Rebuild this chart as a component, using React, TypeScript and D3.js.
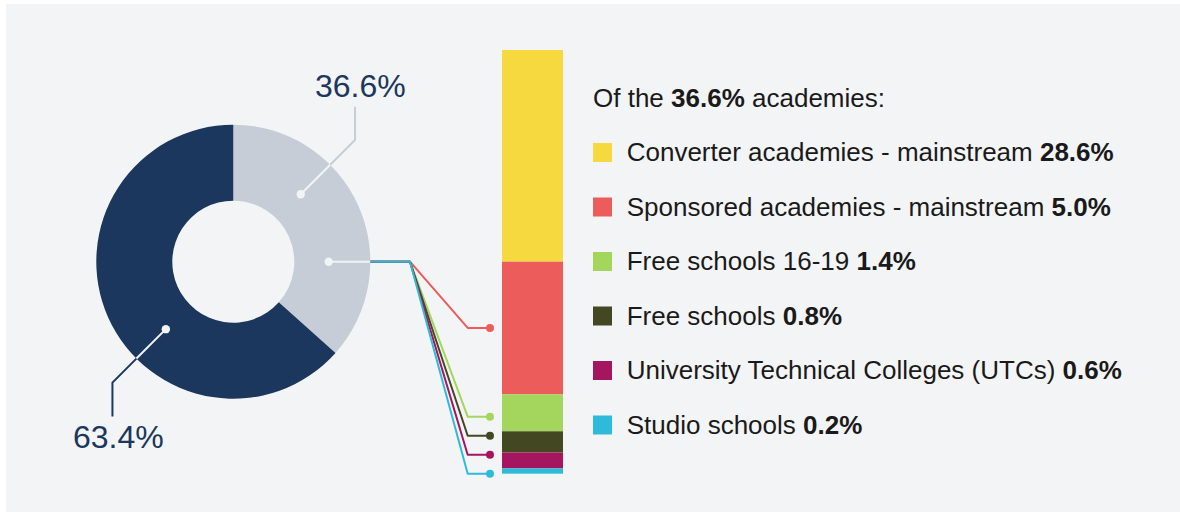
import React, { useEffect, useRef } from 'react';
import * as d3 from 'd3';

// share of all schools
const donutNames = ['Academies', 'Other schools'];
const donutValues = [36.6, 63.4];
const donutColors = ['#c6cdd6', '#1b375d'];

// breakdown of the academies
const categories = [
  'Converter academies - mainstream',
  'Sponsored academies - mainstream',
  'Free schools 16-19',
  'Free schools',
  'University Technical Colleges (UTCs)',
  'Studio schools'
];
const values = [28.6, 5.0, 1.4, 0.8, 0.6, 0.2];
const colors = ['#f6d93f', '#eb5c5a', '#a4d65e', '#434823', '#a4165f', '#2ebbd9'];

const FONT = '"Liberation Sans", Arial, Helvetica, sans-serif';

const App = () => {
  const ref = useRef<SVGSVGElement>(null);

  useEffect(() => {
    const svg = d3.select(ref.current);
    svg.selectAll('*').remove();

    svg.append('rect')
      .attr('x', 6)
      .attr('y', 4)
      .attr('width', 1174)
      .attr('height', 508)
      .attr('fill', '#f3f4f6');

    // donut
    const cx = 233.3;
    const cy = 261.7;
    const inner = 61;
    const outer = 137;
    const dotR = 95.4;

    const pie = d3.pie<number>().sort(null).value(d => d);
    const arc = d3.arc<d3.PieArcDatum<number>>().innerRadius(inner).outerRadius(outer);
    const donut = svg.append('g').attr('transform', `translate(${cx},${cy})`);
    donut.selectAll('path')
      .data(pie(donutValues))
      .enter()
      .append('path')
      .attr('d', arc)
      .attr('fill', (d, i) => donutColors[i]);

    const polar = (deg: number, r: number): [number, number] => {
      const a = (deg * Math.PI) / 180;
      return [cx + r * Math.sin(a), cy - r * Math.cos(a)];
    };

    // leader lines for the two donut labels
    const leaders = [
      { angle: 45, diag: 54.3, vert: -33.3, color: donutColors[0], text: `${donutValues[0]}%`, tx: 315, ty: 96.7 },
      { angle: 225, diag: 53.4, vert: 34, color: donutColors[1], text: `${donutValues[1]}%`, tx: 73, ty: 447.7 }
    ];
    leaders.forEach(l => {
      const [dx, dy] = polar(l.angle, dotR);
      const sx = Math.sign(Math.sin((l.angle * Math.PI) / 180));
      const sy = -Math.sign(Math.cos((l.angle * Math.PI) / 180));
      const ex = dx + sx * l.diag;
      const ey = dy + sy * l.diag;
      svg.append('path')
        .attr('d', `M${dx},${dy}L${ex},${ey}L${ex},${ey + l.vert}`)
        .attr('fill', 'none')
        .attr('stroke', l.color)
        .attr('stroke-width', 2);
      const [ox, oy] = polar(l.angle, outer);
      svg.append('line')
        .attr('x1', dx).attr('y1', dy)
        .attr('x2', ox).attr('y2', oy)
        .attr('stroke', '#f3f4f6')
        .attr('stroke-width', 2);
      svg.append('circle')
        .attr('cx', dx).attr('cy', dy).attr('r', 4.2)
        .attr('fill', '#f3f4f6');
      svg.append('text')
        .attr('x', l.tx)
        .attr('y', l.ty)
        .attr('font-family', FONT)
        .attr('font-size', 32)
        .attr('fill', '#1b375d')
        .text(l.text);
    });

    // stacked bar of the academies (bottom part drawn to scale, top segment broken)
    const barX = 502;
    const barW = 61;
    const barTop = 50;
    const barBottom = 473.7;
    const smallSum = d3.sum(values.slice(1));
    const y = d3.scaleLinear()
      .domain([0, smallSum, d3.sum(values)])
      .range([barBottom, 261.7, barTop]);

    const segs = values.map((v, i) => {
      const below = d3.sum(values.slice(i + 1));
      return { v, i, y0: y(below), y1: y(below + v) };
    });

    svg.append('g')
      .selectAll('rect')
      .data(segs)
      .enter()
      .append('rect')
      .attr('x', barX)
      .attr('y', d => d.y1)
      .attr('width', barW)
      .attr('height', d => d.y0 - d.y1)
      .attr('fill', d => colors[d.i]);

    // connectors from the donut to the bar
    const [mx, my] = polar(90, dotR);
    const [edgeX] = polar(90, outer);
    const fanX = 410;
    const elbowX = 467.7;
    const endX = 490;
    const n = values.length;
    const conn = segs.slice(1).map(s => ({
      ...s,
      cy: s.i === 1 ? (s.y0 + s.y1) / 2 : barBottom - (n - 1 - s.i) * 19
    }));
    conn.forEach(c => {
      svg.append('path')
        .attr('d', `M${edgeX},${my}L${fanX},${my}L${elbowX},${c.cy}L${endX},${c.cy}`)
        .attr('fill', 'none')
        .attr('stroke', colors[c.i])
        .attr('stroke-width', 2)
        .attr('stroke-linejoin', 'round');
      svg.append('circle')
        .attr('cx', endX).attr('cy', c.cy).attr('r', 4)
        .attr('fill', colors[c.i]);
    });
    svg.append('line')
      .attr('x1', mx).attr('y1', my)
      .attr('x2', edgeX).attr('y2', my)
      .attr('stroke', '#f3f4f6')
      .attr('stroke-width', 2);
    svg.append('circle')
      .attr('cx', mx).attr('cy', my).attr('r', 4.2)
      .attr('fill', '#f3f4f6');

    // legend
    const legend = svg.append('g').attr('font-family', FONT).attr('font-size', 26).attr('fill', '#1a1a1a');
    const head = legend.append('text').attr('x', 593).attr('y', 106.7);
    head.append('tspan').text('Of the ');
    head.append('tspan').attr('font-weight', 'bold').text(`${d3.sum(values).toFixed(1)}%`);
    head.append('tspan').text(' academies:');

    const rowY = (i: number) => 161 + i * 54.5;
    categories.forEach((c, i) => {
      legend.append('rect')
        .attr('x', 593)
        .attr('y', rowY(i) - 18)
        .attr('width', 19)
        .attr('height', 19)
        .attr('fill', colors[i]);
      const t = legend.append('text').attr('x', 626.7).attr('y', rowY(i));
      t.append('tspan').text(`${c} `);
      t.append('tspan').attr('font-weight', 'bold').text(`${values[i].toFixed(1)}%`);
    });
  }, []);

  return (
    <svg
      ref={ref}
      width={1180}
      height={512}
      style={{ position: 'absolute', left: 0, top: 0, display: 'block' }}
    />
  );
};

export default App;
